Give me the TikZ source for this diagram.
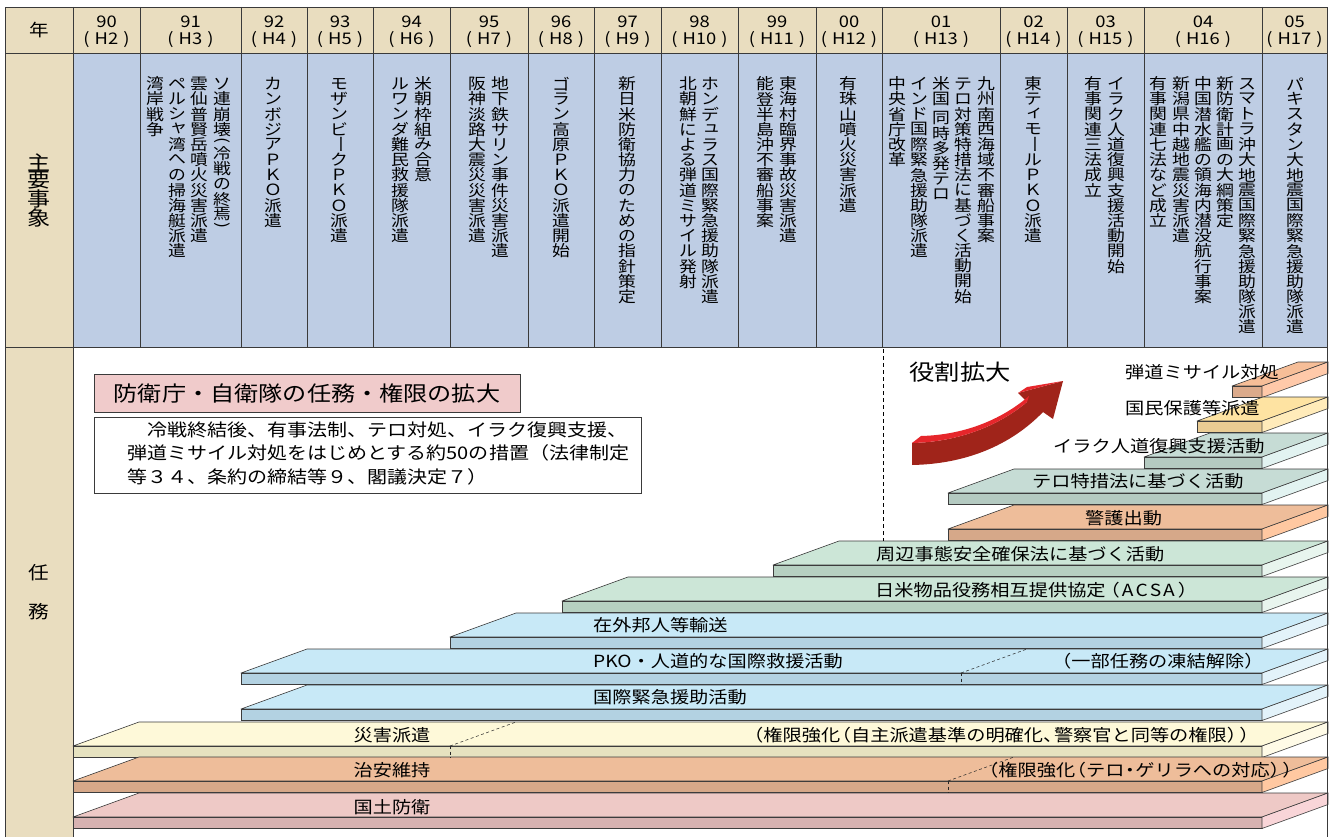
\documentclass[tikz,border=0pt]{standalone}
\usepackage{fontspec}
\usepackage{graphicx}
\setmainfont{Noto Sans CJK JP}[FakeStretch=1.15]

\definecolor{tbeige}{HTML}{E9DDBF}
\definecolor{tblue}{HTML}{BECDE4}
\definecolor{tlinec}{HTML}{3A3A3A}
\definecolor{titlepink}{HTML}{F0CBCB}
\definecolor{arrdark}{HTML}{A0241A}
\definecolor{arrbright}{HTML}{E6262B}
\definecolor{slabline}{HTML}{3C3C3C}
\definecolor{kdT}{HTML}{EEC9C6}\definecolor{kdF}{HTML}{D7B2B1}\definecolor{kdS}{HTML}{F9D5D8}
\definecolor{caT}{HTML}{EEBD9A}\definecolor{caF}{HTML}{D6A889}\definecolor{caS}{HTML}{FFC8A1}
\definecolor{sgT}{HTML}{FEF9D9}\definecolor{sgF}{HTML}{E6E2C0}\definecolor{sgS}{HTML}{FFFBE7}
\definecolor{blT}{HTML}{C8E9F7}\definecolor{blF}{HTML}{B3D2E2}\definecolor{blS}{HTML}{E3F3FA}
\definecolor{grT}{HTML}{CCE6D7}\definecolor{grF}{HTML}{B6D0C1}\definecolor{grS}{HTML}{E8F5EE}
\definecolor{teT}{HTML}{C6DCD5}\definecolor{teF}{HTML}{B4CAC1}\definecolor{teS}{HTML}{E2F3F1}
\definecolor{kmT}{HTML}{FEE3A2}\definecolor{kmF}{HTML}{EACC93}\definecolor{kmS}{HTML}{FFEBBA}
\definecolor{ddT}{HTML}{F6BE98}\definecolor{ddF}{HTML}{DBAA8B}\definecolor{ddS}{HTML}{FFC9A9}

\ExplSyntaxOn
\dim_new:N \l__vt_pitch_dim
\cs_new_protected:Npn \__vt_box:nn #1#2
  { \vbox to #1 \l__vt_pitch_dim { \vss \hbox to 1.1em { \hss #2 \hss } \vss } }
\cs_new_protected:Npn \__vt_small:n #1
  { \__vt_box:nn {1} { \raisebox{0.15em}{\kern0.2em #1} } }
\cs_new_protected:Npn \__vt_char:n #1
  {
    \str_case:nnF {#1}
      {
        {ー}{ \__vt_box:nn {1} { \rotatebox[origin=c]{-90}{ー} } }
        {（}{ \__vt_box:nn {0.6} { \rotatebox[origin=c]{-90}{(} } }
        {）}{ \__vt_box:nn {0.6} { \rotatebox[origin=c]{-90}{)} } }
        {　}{ \vbox to 0.25\l__vt_pitch_dim {} }
        {ャ}{ \__vt_small:n {ャ} }
        {ュ}{ \__vt_small:n {ュ} }
        {ィ}{ \__vt_small:n {ィ} }
      }
      { \__vt_box:nn {1} {#1} }
  }
\NewDocumentCommand \vtext { O{15.2pt} m }
  {
    \dim_set:Nn \l__vt_pitch_dim {#1}
    \vbox { \offinterlineskip \tl_map_function:nN {#2} \__vt_char:n }
  }
\ExplSyntaxOff

\newcommand\mkslab[5]{%
  \filldraw[fill=#3, draw=slabline, line width=0.6pt, line join=round]
    (#1,#2) -- ({#1+66},{#2-24}) -- (1328,{#2-24}) -- (1262,#2) -- cycle;
  \filldraw[fill=#4, draw=slabline, line width=0.6pt]
    (#1,#2) rectangle (1262,{#2+11.5});
  \filldraw[fill=#5, draw=slabline, line width=0.6pt, line join=round]
    (1262,#2) -- (1328,{#2-24}) -- (1328,{#2-12.5}) -- (1262,{#2+11.5}) -- cycle;
}

\tikzset{
  tabline/.style={draw=tlinec, line width=0.9pt},
  hdr/.style={inner sep=0pt, font=\fontsize{16}{16}\selectfont},
  evt/.style={inner sep=0pt, anchor=north, font=\fontsize{15.5}{15.5}\selectfont},
  slabtxt/.style={inner sep=0pt, font=\fontsize{16.7}{16.7}\selectfont},
  sdash/.style={draw=black!85, dash pattern=on 3pt off 2.5pt, line width=0.5pt},
}

\begin{document}
\begin{tikzpicture}[x=1pt,y=-1pt]
\useasboundingbox (0,0) rectangle (1337,837);
\fill[white] (0,0) rectangle (1337,837);

% ---------- table background ----------
\fill[tbeige] (5,7) rectangle (73,837);
\fill[tbeige] (73,7) rectangle (1327.5,53);
\fill[tblue] (73,53) rectangle (1327.5,347);

% ---------- slabs (top to bottom) ----------
\mkslab{1232}{386}{ddT}{ddF}{ddS}
\mkslab{1197}{421}{kmT}{kmF}{kmS}
\mkslab{1144}{457}{teT}{teF}{teS}
\mkslab{948}{493}{teT}{teF}{teS}
\mkslab{948}{529}{caT}{caF}{caS}
\mkslab{773}{565}{grT}{grF}{grS}
\mkslab{562}{601}{grT}{grF}{grS}
\mkslab{450}{637}{blT}{blF}{blS}
\mkslab{241}{673}{blT}{blF}{blS}
\mkslab{241}{709}{blT}{blF}{blS}
\mkslab{73}{746}{sgT}{sgF}{sgS}
\mkslab{73}{781}{caT}{caF}{caS}
\mkslab{73}{817}{kdT}{kdF}{kdS}

% dashed marks on slabs
\draw[sdash] (450,746) -- (516,722);
\draw[sdash] (450,746) -- (450,757.5);
\draw[sdash] (961,673) -- (1027,649);
\draw[sdash] (961,673) -- (961,684.5);
\draw[sdash] (948,781) -- (1014,757);
\draw[sdash] (948,781) -- (948,792.5);
\draw[dash pattern=on 4pt off 3pt, line width=0.6pt] (883,349) -- (883,541);

% ---------- table lines ----------
\draw[tabline] (5,837) -- (5,7) -- (1327.5,7) -- (1327.5,837);
\draw[tabline] (5,53) -- (1327.5,53);
\draw[tabline] (5,347) -- (1327.5,347);
\draw[tabline] (73,7) -- (73,837);
\foreach \x in {140,241,307,373,450,528,594,661,738,816,882,1000,1067,1144,1262}
  \draw[tabline] (\x,7) -- (\x,347);

% ---------- header ----------
\node[inner sep=0pt, font=\fontsize{17}{17}\selectfont] (nen) at (39,30) {年};
\foreach \cx/\yr/\hh [count=\i] in {106.5/90/2,190.5/91/3,274/92/4,340/93/5,411.5/94/6,489/95/7,561/96/8,627.5/97/9,699.5/98/10,777/99/11,849/00/12,941/01/13,1033.5/02/14,1105.5/03/15,1203/04/16,1294.5/05/17}{
  \node[hdr] (yr\i) at (\cx,22) {\yr};
  \node[hdr] (hh\i) at (\cx,40) {(\kern5pt H\hh\kern5pt)};
}

% ---------- row labels ----------
\node[inner sep=0pt, font=\fontsize{20}{20}\selectfont] (shuyo) at (39,190) {\vtext[18.5pt]{主要事象}};
\node[inner sep=0pt, font=\fontsize{18}{18}\selectfont] (nin) at (39,573) {任};
\node[inner sep=0pt, font=\fontsize{18}{18}\selectfont] (mu) at (39,612) {務};

% ---------- events ----------
\node[evt] (e91a) at (222,76) {\vtext{ソ連崩壊（冷戦の終焉）}};
\node[evt] (e91b) at (199,76) {\vtext{雲仙普賢岳噴火災害派遣}};
\node[evt] (e91c) at (177,76) {\vtext{ペルシャ湾への掃海艇派遣}};
\node[evt] (e91d) at (155,76) {\vtext{湾岸戦争}};
\node[evt] (e92a) at (273,76) {\vtext{カンボジアＰＫＯ派遣}};
\node[evt] (e93a) at (339,76) {\vtext{モザンビークＰＫＯ派遣}};
\node[evt] (e94a) at (423,76) {\vtext{米朝枠組み合意}};
\node[evt] (e94b) at (400,76) {\vtext{ルワンダ難民救援隊派遣}};
\node[evt] (e95a) at (500,76) {\vtext{地下鉄サリン事件災害派遣}};
\node[evt] (e95b) at (477,76) {\vtext{阪神淡路大震災災害派遣}};
\node[evt] (e96a) at (561,76) {\vtext{ゴラン高原ＰＫＯ派遣開始}};
\node[evt] (e97a) at (627,76) {\vtext{新日米防衛協力のための指針策定}};
\node[evt] (e98a) at (710,76) {\vtext{ホンデュラス国際緊急援助隊派遣}};
\node[evt] (e98b) at (688,76) {\vtext{北朝鮮による弾道ミサイル発射}};
\node[evt] (e99a) at (788,76) {\vtext{東海村臨界事故災害派遣}};
\node[evt] (e99b) at (765,76) {\vtext{能登半島沖不審船事案}};
\node[evt] (e00a) at (848,76) {\vtext{有珠山噴火災害派遣}};
\node[evt] (e01a) at (986,76) {\vtext{九州南西海域不審船事案}};
\node[evt] (e01b) at (963,76) {\vtext{テロ対策特措法に基づく活動開始}};
\node[evt] (e01c) at (941,76) {\vtext{米国　同時多発テロ}};
\node[evt] (e01d) at (919,76) {\vtext{インド国際緊急援助隊派遣}};
\node[evt] (e01e) at (897,76) {\vtext{中央省庁改革}};
\node[evt] (e02a) at (1033,76) {\vtext{東ティモールＰＫＯ派遣}};
\node[evt] (e03a) at (1116,76) {\vtext{イラク人道復興支援活動開始}};
\node[evt] (e03b) at (1093,76) {\vtext{有事関連三法成立}};
\node[evt] (e04a) at (1247,76) {\vtext{スマトラ沖大地震国際緊急援助隊派遣}};
\node[evt] (e04b) at (1225,76) {\vtext{新防衛計画の大綱策定}};
\node[evt] (e04c) at (1203,76) {\vtext{中国潜水艦の領海内潜没航行事案}};
\node[evt] (e04d) at (1181,76) {\vtext{新潟県中越地震災害派遣}};
\node[evt] (e04e) at (1158,76) {\vtext{有事関連七法など成立}};
\node[evt] (e05a) at (1295,76) {\vtext{パキスタン大地震国際緊急援助隊派遣}};

% ---------- title and description ----------
\node[draw=tlinec, fill=titlepink, line width=0.6pt, minimum width=426pt, minimum height=38pt,
      inner sep=0pt, font=\fontsize{21}{21}\selectfont] (title) at (307,393) {防衛庁・自衛隊の任務・権限の拡大};
\node[draw=tlinec, line width=0.6pt, minimum width=547pt, minimum height=76pt,
      anchor=north west, inner sep=0pt] (descbox) at (94,417) {};
\node[anchor=north west, inner sep=0pt, align=left, font=\fontsize{17.4}{23.5}\selectfont] (desc) at (127,421.5)
  {　冷戦終結後、有事法制、テロ対処、イラク復興支援、\\弾道ミサイル対処をはじめとする約50の措置（法律制定\\等３４、条約の締結等９、閣議決定７）};

% ---------- role expansion arrow ----------
\node[inner sep=0pt, font=\fontsize{22}{22}\selectfont] (role) at (960,372) {役割拡大};
\fill[arrdark] (912,443) .. controls (955,442) and (996,428) .. (1027,402) -- (1018,393) -- (1063,381)
  -- (1053,419) -- (1043,412) .. controls (1010,446) and (965,464) .. (912,465) -- cycle;
\fill[arrbright] (912,443) -- (921,436) .. controls (962,435) and (1000,421) .. (1029,396)
  -- (1027,402) .. controls (996,428) and (955,442) .. (912,443) -- cycle;
\fill[arrbright] (1018,393) -- (1027,387) -- (1063,381) -- cycle;

% ---------- slab labels ----------
\node[slabtxt] (s1) at (392,807) {国土防衛};
\node[slabtxt] (s2) at (392,770) {治安維持};
\node[slabtxt] (s3) at (392,735) {災害派遣};
\node[slabtxt, anchor=west] (s4) at (593,697) {国際緊急援助活動};
\node[slabtxt, anchor=west] (s5) at (593,661) {PKO・人道的な国際救援活動};
\node[slabtxt, anchor=west] (s6) at (593,625) {在外邦人等輸送};
\node[slabtxt, anchor=west] (s7) at (875,590) {日米物品役務相互提供協定\kern-0.3em（\kern2pt A\kern2pt C\kern2pt S\kern2pt A\kern3pt）};
\node[slabtxt, anchor=west] (s8) at (876,554) {周辺事態安全確保法に基づく活動};
\node[slabtxt, anchor=west] (s9) at (1085,518) {警護出動};
\node[slabtxt, anchor=west] (s10) at (1032,481) {テロ特措法に基づく活動};
\node[slabtxt, anchor=west] (s11) at (1053,446) {イラク人道復興支援活動};
\node[slabtxt, anchor=west] (s12) at (1125,408) {国民保護等派遣};
\node[slabtxt, anchor=west] (s13) at (1125,372) {弾道ミサイル対処};

\node[slabtxt, anchor=west] (r3) at (744,735)
  {（権限強化\kern-0.5em（自主派遣基準の明確化、\kern-0.5em 警察官と同等の権限）\kern-0.4em）};
\node[slabtxt, anchor=west] (r2) at (979,770)
  {（権限強化\kern-0.5em（テロ\kern-0.25em・\kern-0.25em ゲリラへの対応）\kern-0.4em）};
\node[slabtxt, anchor=west] (r5) at (1052,661) {（一部任務の凍結解除）};
\end{tikzpicture}
\end{document}
